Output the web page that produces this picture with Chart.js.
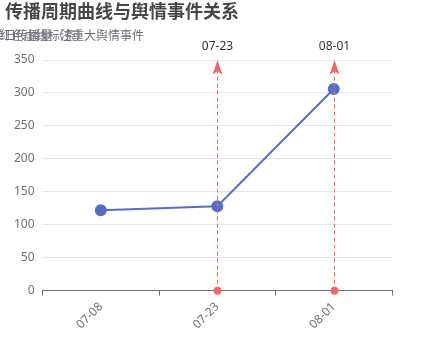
<!DOCTYPE html>
<html><head><meta charset="utf-8">
<script src="https://cdn.jsdelivr.net/npm/chart.js@4"></script>
<style>html,body{margin:0;padding:0;background:#fff}#wrap{width:436px;height:360px}</style>
</head><body><div id="wrap"><canvas id="c" width="436" height="360"></canvas></div>
<script>
const categories = ['07-08', '07-23', '08-01'];
const values = [122, 128, 306];
const eventDates = ['07-23', '08-01'];
const yTicks = [0, 50, 100, 150, 200, 250, 300, 350];
const titleText = '传播周期曲线与舆情事件关系';
const subtitleTexts = ['单日传播量（条）', '红色虚线标注重大舆情事件'];

const FONT = "'Noto Sans','Noto Sans CJK SC',sans-serif";
const RED = '#ee6666';

const overlay = {
  id: 'overlay',
  afterDraw(chart) {
    const ctx = chart.ctx;
    const x = chart.scales.x, y = chart.scales.y;
    ctx.save();
    ctx.fillStyle = '#464646';
    ctx.font = 'bold 18px ' + FONT;
    ctx.textBaseline = 'middle';
    ctx.textAlign = 'left';
    ctx.fillText(titleText, 5, 13);
    ctx.font = '12px ' + FONT;
    ctx.fillStyle = '#6e7079';
    ctx.fillText(subtitleTexts[0], -8, 37);
    ctx.fillText(subtitleTexts[1], 0, 37);
    eventDates.forEach(d => {
      const idx = categories.indexOf(d);
      const px = Math.round(x.getPixelForValue(idx)) + 0.5;
      const yb = y.getPixelForValue(yTicks[0]);
      const yt = y.getPixelForValue(yTicks[yTicks.length - 1]);
      ctx.strokeStyle = RED;
      ctx.lineWidth = 1;
      ctx.setLineDash([4, 3]);
      ctx.beginPath();
      ctx.moveTo(px, yb);
      ctx.lineTo(px, yt + 10);
      ctx.stroke();
      ctx.setLineDash([]);
      ctx.fillStyle = RED;
      ctx.beginPath();
      ctx.moveTo(px, yt);
      ctx.lineTo(px - 5, yt + 15);
      ctx.lineTo(px, yt + 11);
      ctx.lineTo(px + 5, yt + 15);
      ctx.closePath();
      ctx.fill();
      ctx.beginPath();
      ctx.arc(px, yb, 4, 0, Math.PI * 2);
      ctx.fill();
      ctx.fillStyle = '#333';
      ctx.font = '12px ' + FONT;
      ctx.textAlign = 'center';
      ctx.textBaseline = 'middle';
      ctx.fillText(d, px, yt - 13);
    });
    ctx.restore();
  }
};

new Chart(document.getElementById('c'), {
  type: 'line',
  data: {
    labels: categories,
    datasets: [{
      data: values,
      borderColor: '#5470c6',
      backgroundColor: '#5470c6',
      borderWidth: 2,
      pointRadius: 5,
      pointHoverRadius: 5,
      tension: 0
    }]
  },
  options: {
    responsive: false,
    animation: false,
    events: [],
    layout: { padding: { top: 60, right: 44, left: 6, bottom: 24 } },
    plugins: { legend: { display: false }, tooltip: { enabled: false }, title: { display: false } },
    scales: {
      x: {
        offset: true,
        grid: { offset: true, drawOnChartArea: false, drawTicks: true, tickLength: 5, color: '#6e7079' },
        border: { color: '#6e7079', width: 1 },
        ticks: { color: '#6e7079', font: { size: 12, family: FONT }, maxRotation: 45, minRotation: 45, padding: 4 }
      },
      y: {
        min: 0, max: 350,
        afterBuildTicks(axis) { axis.ticks = yTicks.map(v => ({ value: v })); },
        grid: { color: '#e0e6f1', drawTicks: false },
        border: { display: false },
        ticks: { color: '#6e7079', font: { size: 12, family: FONT }, padding: 8 }
      }
    }
  },
  plugins: [overlay]
});
</script>
</body></html>
